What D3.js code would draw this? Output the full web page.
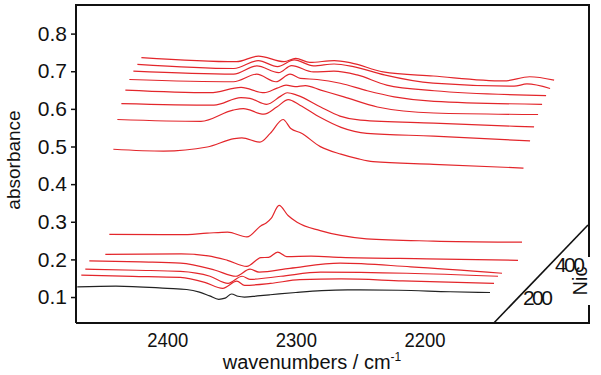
<!DOCTYPE html>
<html>
<head>
<meta charset="utf-8">
<script src="https://cdn.jsdelivr.net/npm/d3@7/dist/d3.min.js"></script>
<style>
  body { margin: 0; background: #fff; }
  text { font-family: "Liberation Sans", Arial, sans-serif; fill: #111; }
</style>
</head>
<body>
<div id="chart"></div>
<script>
// spectra: [wavenumber (cm-1), absorbance]
const nic050 = [[2470,0.127],[2440,0.129],[2400,0.123],[2385,0.120],[2375,0.113],[2367,0.103],[2360,0.094],[2355,0.097],[2350,0.108],[2345,0.102],[2340,0.100],[2330,0.103],[2320,0.106],[2300,0.112],[2280,0.117],[2260,0.119],[2220,0.118],[2180,0.114],[2149,0.112]];
const nic075 = [[2470,0.147],[2430,0.144],[2393,0.141],[2374,0.128],[2360,0.112],[2349,0.131],[2343,0.120],[2323,0.125],[2300,0.135],[2268,0.137],[2220,0.132],[2149,0.125]];
const nic100 = [[2470,0.152],[2430,0.149],[2396,0.146],[2373,0.133],[2359,0.114],[2348,0.133],[2342,0.125],[2318,0.133],[2287,0.144],[2220,0.141],[2149,0.133]];
const nic125 = [[2470,0.163],[2430,0.160],[2399,0.157],[2372,0.138],[2356,0.122],[2345,0.141],[2338,0.133],[2314,0.143],[2275,0.157],[2220,0.147],[2149,0.130]];
const nic225 = [[2470,0.136],[2411,0.137],[2390,0.132],[2375,0.120],[2360,0.104],[2349,0.127],[2343,0.128],[2336,0.142],[2329,0.130],[2310,0.131],[2287,0.128],[2220,0.124],[2149,0.120]];
const nic250 = [[2470,0.178],[2415,0.177],[2394,0.181],[2378,0.184],[2363,0.171],[2352,0.201],[2348,0.208],[2344,0.221],[2338,0.255],[2331,0.228],[2324,0.210],[2306,0.188],[2290,0.175],[2270,0.166],[2218,0.160],[2149,0.157]];
const nic275 = [[2470,0.393],[2431,0.388],[2397,0.399],[2376,0.421],[2370,0.423],[2356,0.412],[2348,0.435],[2338,0.472],[2332,0.448],[2324,0.436],[2309,0.400],[2293,0.380],[2280,0.368],[2268,0.360],[2221,0.353],[2151,0.343]];
const nic300 = [[2470,0.461],[2405,0.456],[2380,0.486],[2372,0.490],[2356,0.475],[2346,0.494],[2337,0.514],[2328,0.499],[2312,0.466],[2296,0.440],[2276,0.424],[2224,0.417],[2149,0.404]];
const nic325 = [[2470,0.492],[2398,0.488],[2377,0.508],[2370,0.506],[2357,0.490],[2346,0.512],[2341,0.521],[2333,0.514],[2315,0.483],[2300,0.459],[2284,0.448],[2227,0.440],[2149,0.430]];
const nic350 = [[2470,0.517],[2404,0.510],[2380,0.524],[2362,0.510],[2352,0.522],[2345,0.530],[2338,0.526],[2330,0.529],[2318,0.517],[2300,0.499],[2274,0.472],[2230,0.456],[2149,0.452]];
const nic375 = [[2470,0.534],[2389,0.528],[2371,0.548],[2356,0.528],[2345,0.548],[2337,0.537],[2324,0.534],[2306,0.524],[2285,0.504],[2264,0.488],[2233,0.476],[2149,0.468]];
const nic400 = [[2470,0.545],[2392,0.537],[2374,0.559],[2357,0.541],[2347,0.560],[2330,0.543],[2314,0.545],[2296,0.535],[2273,0.508],[2236,0.493],[2149,0.480]];
const nic425 = [[2470,0.552],[2395,0.541],[2376,0.562],[2361,0.546],[2348,0.564],[2333,0.548],[2317,0.553],[2302,0.546],[2278,0.524],[2240,0.502],[2177,0.494],[2167,0.500],[2149,0.488]];
const nic450 = [[2470,0.559],[2396,0.548],[2379,0.563],[2359,0.548],[2350,0.557],[2339,0.546],[2320,0.551],[2307,0.545],[2282,0.521],[2243,0.510],[2188,0.497],[2168,0.508],[2149,0.499]];

const nicValues = [50, 75, 100, 125, 225, 250, 275, 300, 325, 350, 375, 400, 425, 450];
const spectra = [nic050, nic075, nic100, nic125, nic225, nic250, nic275, nic300, nic325, nic350, nic375, nic400, nic425, nic450];

const yTicks = [0.1, 0.2, 0.3, 0.4, 0.5, 0.6, 0.7, 0.8];
const xTicks = [2400, 2300, 2200];
const nicTicks = [200, 400];

const width = 601, height = 375;
const m = { left: 76, right: 589, top: 5, bottom: 323 };

const svg = d3.select("#chart").append("svg")
    .attr("width", width)
    .attr("height", height);

const x = d3.scaleLinear().domain([2471, 2072]).range([m.left, m.right]);
const y = d3.scaleLinear().domain([0.031, 0.876]).range([m.bottom, m.top]);

// depth axis (Nic) drawn as a diagonal starting at the spectra end
const nicStart = [x(2146), m.bottom];
const nicEnd = [m.right - 1, 225];
const nic = d3.scaleLinear().domain([50, 637.5]).range([0, 1]);
const nicDx = v => nic(v) * (nicEnd[0] - nicStart[0]);
const nicDy = v => nic(v) * (nicStart[1] - nicEnd[1]);

// spectra
const line = d3.line().curve(d3.curveMonotoneX);
spectra.forEach((pts, i) => {
    const v = nicValues[i];
    svg.append("path")
        .attr("d", line(pts.map(d => [x(d[0]) + nicDx(v), y(d[1]) - nicDy(v)])))
        .attr("fill", "none")
        .attr("stroke", i === 0 ? "#222" : "#e3262b")
        .attr("stroke-width", 1.2);
});

// frame
const frame = svg.append("g").attr("stroke", "#111").attr("stroke-width", 2).attr("fill", "none");
frame.append("path").attr("d", `M${m.left},${m.bottom}V${m.top}H${m.right}V257`);
frame.append("path").attr("d", `M${m.right},305V${m.bottom}H${m.left}`);
frame.append("line")
    .attr("x1", nicStart[0]).attr("y1", nicStart[1])
    .attr("x2", nicEnd[0]).attr("y2", nicEnd[1])
    .attr("stroke-width", 1.6);

// y axis
const yAxis = svg.append("g")
    .attr("transform", `translate(${m.left},0)`)
    .call(d3.axisLeft(y).tickValues(yTicks).tickFormat(d3.format(".1f")).tickSize(5).tickPadding(4));
yAxis.select(".domain").remove();
yAxis.selectAll("line").attr("stroke", "#111").attr("stroke-width", 1.5);
yAxis.selectAll("text").style("font-size", "21px").attr("fill", "#111");

// x axis (labels only, slightly condensed like the original)
const xAxis = svg.append("g")
    .attr("transform", `translate(0,${m.bottom})`)
    .call(d3.axisBottom(x).tickValues(xTicks).tickFormat(d3.format("d")).tickSize(0).tickPadding(9));
xAxis.select(".domain").remove();
xAxis.selectAll("text").style("font-size", "21px").attr("fill", "#111")
    .attr("transform", "scale(0.88,1)");

// Nic labels
svg.selectAll(".nicLabel")
    .data(nicTicks)
    .join("text")
    .attr("class", "nicLabel")
    .attr("x", d => nicStart[0] + nicDx(d) + 5)
    .attr("y", d => nicStart[1] - nicDy(d))
    .attr("dy", "0.35em")
    .attr("textLength", 30)
    .style("font-size", "21px")
    .text(d => d);

// axis titles
const xTitle = svg.append("text")
    .attr("x", 312)
    .attr("y", 369)
    .attr("text-anchor", "middle")
    .style("font-size", "20px");
xTitle.append("tspan").text("wavenumbers / cm");
xTitle.append("tspan").attr("dy", -8).style("font-size", "12px").text("-1");

svg.append("text")
    .attr("transform", "translate(20,160) rotate(-90)")
    .attr("text-anchor", "middle")
    .style("font-size", "19px")
    .text("absorbance");

svg.append("text")
    .attr("transform", `translate(587,${(257 + 305) / 2}) rotate(-90)`)
    .attr("text-anchor", "middle")
    .style("font-size", "20px")
    .text("Nic");
</script>
</body>
</html>
